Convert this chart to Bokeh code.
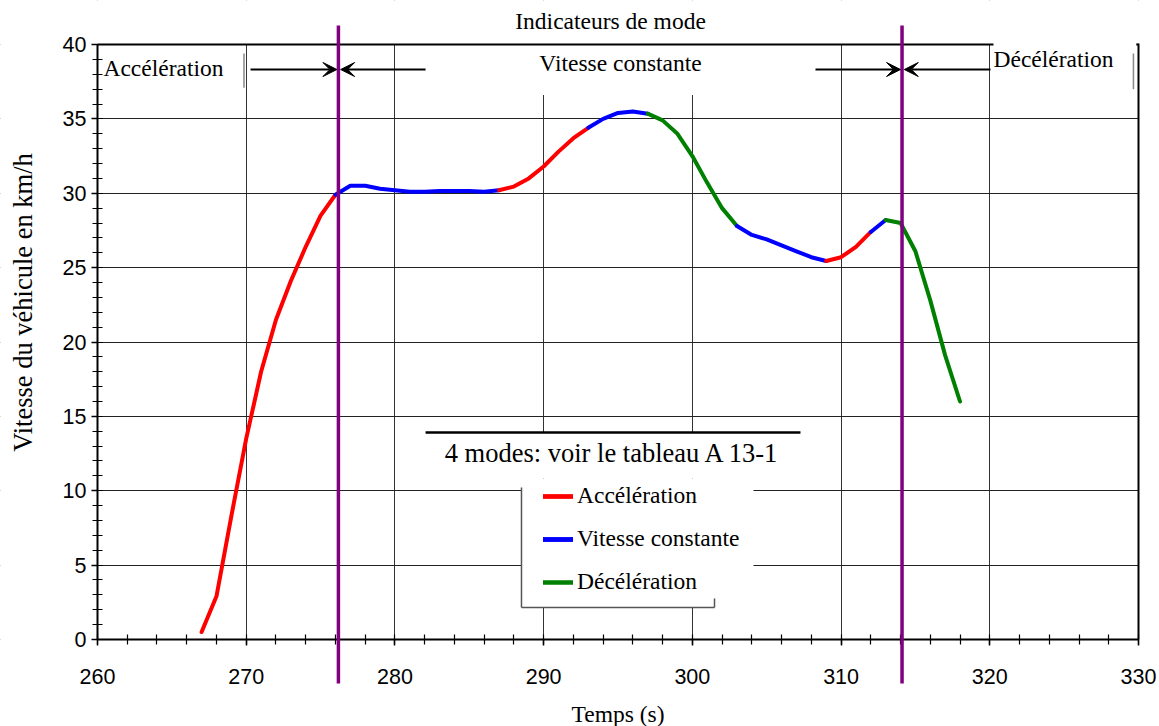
from bokeh.plotting import figure
from bokeh.models import (Arrow, VeeHead, BoxAnnotation, Label, Legend, LegendItem,
                          LinearAxis, SingleIntervalTicker, FixedTicker, Range1d)
from bokeh.embed import file_html
from bokeh.resources import INLINE

# ---------------- data ----------------
time_s = [267, 268, 269, 270, 271, 272, 273, 274, 275, 276,
          277, 278, 279, 280, 281, 282, 283, 284, 285, 286,
          287, 288, 289, 290, 291, 292, 293, 294, 295, 296,
          297, 298, 299, 300, 301, 302, 303, 304, 305, 306,
          307, 308, 309, 310, 311, 312, 313, 314, 315, 316,
          317, 318]
speed_kmh = [0.5, 2.9, 8.3, 13.5, 18.0, 21.5, 24.1, 26.4, 28.5, 29.9,
             30.5, 30.5, 30.3, 30.2, 30.1, 30.1, 30.15, 30.15, 30.15, 30.1,
             30.2, 30.45, 31.0, 31.8, 32.8, 33.7, 34.4, 35.0, 35.4, 35.5,
             35.35, 34.9, 34.0, 32.5, 30.7, 29.0, 27.8, 27.2, 26.9, 26.5,
             26.1, 25.7, 25.45, 25.7, 26.4, 27.4, 28.2, 28.0, 26.1, 22.8,
             19.1, 16.0]
# mode segments: [start, end] times and mode of each segment
seg_start = [267, 276, 287, 293, 297, 303, 309, 312, 313]
seg_end = [276, 287, 293, 297, 303, 309, 312, 313, 318]
seg_mode = ["Accélération", "Vitesse constante", "Accélération", "Vitesse constante",
            "Décélération", "Vitesse constante", "Accélération", "Vitesse constante",
            "Décélération"]
mode_names = ["Accélération", "Vitesse constante", "Décélération"]
mode_colors = ["#FF0000", "#0000FF", "#008000"]
mode_change_times = [276.2, 314.1]
x_min, x_max = 260, 330
y_min, y_max = 0, 40
x_ticks_major = 10
y_ticks_major = 5

SERIF = "Liberation Serif"
SANS = "Liberation Sans"
FS = "23.5px"

# the frame spans the whole canvas so that marks outside the 0-40 band are not clipped
XR = (253.477, 331.413)
YR = (-5.85, 42.96)
p = figure(width=1159, height=726, output_backend="svg", toolbar_location=None,
           x_range=Range1d(*XR), y_range=Range1d(*YR),
           x_axis_location=None, y_axis_location=None,
           min_border_left=0, min_border_right=0, min_border_top=0, min_border_bottom=0,
           outline_line_color=None, background_fill_color="white", border_fill_color="white")

xax = LinearAxis(fixed_location=y_min, bounds=(x_min, x_max),
                 ticker=SingleIntervalTicker(interval=x_ticks_major, num_minor_ticks=5))
yax = LinearAxis(fixed_location=x_min, bounds=(y_min, y_max),
                 ticker=SingleIntervalTicker(interval=y_ticks_major, num_minor_ticks=5))
for ax in (xax, yax):
    ax.axis_line_color = "black"
    ax.axis_line_width = 2
    ax.major_tick_line_color = "black"
    ax.major_tick_line_width = 1.5
    ax.major_tick_in = 0
    ax.major_tick_out = 6
    ax.minor_tick_line_color = "black"
    ax.minor_tick_line_width = 1.2
    ax.minor_tick_in = 5
    ax.minor_tick_out = 5
    ax.major_label_text_font = SANS
    ax.major_label_text_font_size = "21.5px"
    ax.major_label_text_color = "black"
    ax.axis_label_text_font = SERIF
    ax.axis_label_text_font_size = FS
    ax.axis_label_text_font_style = "normal"
    ax.axis_label_text_color = "black"
xax.axis_label = "Temps (s)"
xax.major_label_standoff = 24
xax.axis_label_standoff = 13
yax.major_label_standoff = 5
p.add_layout(xax, "below")
p.add_layout(yax, "left")

# y axis title (own bare axis so it can sit where the reference has it)
ylab = LinearAxis(fixed_location=x_min, bounds=(5.32, y_max), ticker=FixedTicker(ticks=[]),
                  axis_line_color=None, major_tick_in=0, major_tick_out=0,
                  minor_tick_in=0, minor_tick_out=0,
                  axis_label="Vitesse du véhicule en km/h", axis_label_standoff=60,
                  axis_label_text_font=SERIF, axis_label_text_font_size="26.5px",
                  axis_label_text_font_style="normal", axis_label_text_color="black")
p.add_layout(ylab, "left")

# frame top and right lines
top_ax = LinearAxis(fixed_location=y_max, bounds=(x_min, x_max), ticker=FixedTicker(ticks=[]),
                    axis_line_color="black", axis_line_width=2,
                    major_tick_in=0, major_tick_out=0, minor_tick_in=0, minor_tick_out=0)
p.add_layout(top_ax, "above")
right_ax = LinearAxis(fixed_location=x_max, bounds=(y_min, 40.07), ticker=FixedTicker(ticks=[]),
                      axis_line_color="black", axis_line_width=2,
                      major_tick_in=0, major_tick_out=0, minor_tick_in=0, minor_tick_out=0)
p.add_layout(right_ax, "right")

p.xgrid.ticker = SingleIntervalTicker(interval=x_ticks_major)
p.ygrid.ticker = SingleIntervalTicker(interval=y_ticks_major)
p.xgrid.bounds = (x_min, x_max)
p.ygrid.bounds = (y_min, y_max)
p.xgrid.grid_line_color = "#333333"
p.ygrid.grid_line_color = "#222222"
p.xgrid.grid_line_width = 1
p.ygrid.grid_line_width = 1

# white masks: outside the plot box and under the texts
for (l, r, b, t) in ((XR[0], XR[1], y_max, YR[1]),
                     (XR[0], XR[1], YR[0], y_min),
                     (XR[0], x_min, YR[0], YR[1]),
                     (x_max, XR[1], YR[0], YR[1]),
                     (282.4, 307.9, 36.6, y_max),
                     (282.26, 307.27, 10.82, 13.92),
                     (288.51, 304.11, 2.15, 10.82)):
    p.add_layout(BoxAnnotation(left=l, right=r, bottom=b, top=t, fill_color="white",
                               fill_alpha=1, line_color=None, level="underlay"))
p.add_layout(BoxAnnotation(left=320.25, right=329.85, bottom=36.6, top=40.3, fill_color="white",
                           fill_alpha=1, line_color=None))

# curve segments
legend_items = {}
for s, e, m in zip(seg_start, seg_end, seg_mode):
    xs = [t for t in time_s if s <= t <= e]
    ys = [v for t, v in zip(time_s, speed_kmh) if s <= t <= e]
    color = mode_colors[mode_names.index(m)]
    r = p.line(xs, ys, line_color=color, line_width=4, line_cap="round", line_join="round")
    legend_items.setdefault(m, []).append(r)

legend = Legend(items=[LegendItem(label=m, renderers=legend_items[m]) for m in mode_names],
                location=(543, 131), margin=0, padding=8, spacing=16,
                glyph_width=30, glyph_height=20, label_height=20, label_standoff=4,
                label_text_font=SERIF, label_text_font_size=FS, label_text_color="black",
                border_line_color=None, background_fill_alpha=0)
p.add_layout(legend, "center")

# legend shadow borders
for (x0, y0, x1, y1) in ((288.51, 10.22, 288.51, 2.15), (288.51, 2.15, 301.49, 2.15),
                         (301.49, 2.15, 301.49, 2.76)):
    p.add_layout(Arrow(end=None, x_start=x0, y_start=y0, x_end=x1, y_end=y1,
                       line_color="#555555", line_width=1.5))

# mode change indicators
for t in mode_change_times:
    p.add_layout(Arrow(end=None, x_start=t, y_start=-2.96, x_end=t, y_end=41.28,
                       line_color="#800080", line_width=3.5))

# arrows to indicators
for (x0, x1) in ((270.29, mode_change_times[0] - 0.1), (282.06, mode_change_times[0] + 0.15),
                 (308.28, mode_change_times[1] - 0.1), (320.05, mode_change_times[1] + 0.15)):
    p.add_layout(Arrow(end=VeeHead(size=14, fill_color="black", line_color="black"),
                       x_start=x0, y_start=38.32, x_end=x1, y_end=38.32,
                       line_color="black", line_width=2))

# gray edge bars
for xb, y0, y1 in ((269.85, 39.4, 37.1), (329.66, 39.4, 37.0)):
    p.add_layout(Arrow(end=None, x_start=xb, y_start=y0, x_end=xb, y_end=y1,
                       line_color="#888888", line_width=1.5))

# 4 modes header line
p.add_layout(Arrow(end=None, x_start=282.06, y_start=13.92, x_end=307.27, y_end=13.92,
                   line_color="black", line_width=2.5))

texts = [("Indicateurs de mode", 294.5, 41.6, "center", FS),
         ("Accélération", 260.4, 38.39, "left", FS),
         ("Vitesse constante", 295.17, 38.75, "center", FS),
         ("Décélération", 320.25, 39.06, "left", FS),
         ("4 modes: voir le tableau A 13-1", 294.63, 12.57, "center", "26.5px")]
for txt, x, y, al, fs in texts:
    p.add_layout(Label(x=x, y=y, text=txt, text_align=al, text_baseline="middle",
                       text_font=SERIF, text_font_size=fs, text_color="black"))

open("out.html", "w").write(file_html(p, INLINE))
